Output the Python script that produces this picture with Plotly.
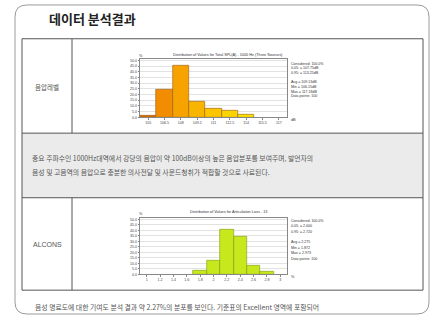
import plotly.graph_objects as go

W, H = 438, 317

# ---- data ----
spl_bins = ["105", "106.5", "108", "109.5", "111", "112.5", "114", "115.5", "117"]
spl_pct = [1.0, 24.0, 45.0, 13.5, 8.0, 6.0, 2.5, 0.0, 0.0]
spl_colors = ["#d86a00", "#f28c00", "#f6a300", "#f8b500", "#fbc600", "#fcd500", "#fde300", "#fde300", "#fde300"]
spl_stats = ["Considered: 100.0%", "0.05: = 107.75dB", "0.95: = 113.25dB", "",
             "Avg = 109.13dB", "Min = 106.15dB", "Max = 117.18dB", "Data points: 100"]

alc_bins = ["1", "1.2", "1.4", "1.6", "1.8", "2", "2.2", "2.4", "2.6", "2.8", "3"]
alc_pct = [0.0, 0.0, 0.0, 0.0, 3.0, 12.0, 41.0, 34.0, 8.0, 2.0, 0.0]
alc_stats = ["Considered: 100.0%", "0.05: = 2.000", "0.95: = 2.720", "",
             "Avg = 2.275", "Min = 1.872", "Max = 2.973", "Data points: 100"]

y_ticks = [0, 5, 10, 15, 20, 25, 30, 35, 40, 45, 50]
y_labels = ["0.0", "5.0", "10.0", "15.0", "20.0", "25.0", "30.0", "35.0", "40.0", "45.0", "50.0"]

title_text = "데이터 분석결과"
row1_label = "음압레벨"
row2_label = "ALCONS"
chart1_title = "Distribution of Values for Total SPL(A) - 1000 Hz (Three Sources)"
chart2_title = "Distribution of Values for Articulation Loss - 13"
comment1 = ["중요 주파수인 1000Hz대역에서 강당의 음압이 약 100dB이상의 높은 음압분포를 보여주며, 발언자의",
            "음성 및 고음역의 음압으로 충분한 의사전달 및 사운드청취가 적합할 것으로 사료된다."]
comment2 = "음성 명료도에 대한 기여도 분석 결과 약 2.27%의 분포를 보인다. 기준표의 Excellent 영역에 포함되어"


def fx(x):
    return x / W


def fy(y):
    return 1 - y / H


fig = go.Figure()

k1 = [i for i, v in enumerate(spl_pct) if v > 0]
fig.add_trace(go.Bar(
    x=[spl_bins[i] for i in k1], y=[spl_pct[i] for i in k1],
    marker=dict(color=[spl_colors[i] for i in k1], line=dict(color="#9a5a10", width=0.6)),
    width=1, xaxis="x", yaxis="y", showlegend=False, hoverinfo="skip"))

k2 = [i for i, v in enumerate(alc_pct) if v > 0]
fig.add_trace(go.Bar(
    x=[alc_bins[i] for i in k2], y=[alc_pct[i] for i in k2],
    marker=dict(color="#c6e81c", line=dict(color="#7c9a10", width=0.6)),
    width=1, xaxis="x2", yaxis="y2", showlegend=False, hoverinfo="skip"))

tickfont = dict(family="Liberation Sans", size=3.6, color="#444")
axis_common = dict(showline=True, linecolor="#888", linewidth=0.6, mirror=True,
                   ticks="outside", ticklen=1.5, tickcolor="#888", tickwidth=0.5,
                   tickfont=tickfont, fixedrange=True)

fig.update_layout(
    width=W, height=H, margin=dict(l=0, r=0, t=0, b=0),
    paper_bgcolor="white", plot_bgcolor="white", bargap=0,
    xaxis=dict(domain=[fx(140), fx(287)], anchor="y", type="category",
               categoryorder="array", categoryarray=spl_bins, range=[-0.5, 8.5],
               showgrid=False, **axis_common),
    yaxis=dict(domain=[fy(118), fy(59)], anchor="x", range=[0, 51.5],
               tickvals=y_ticks, ticktext=y_labels, showgrid=True, gridcolor="#e2e2e2",
               gridwidth=0.5, **axis_common),
    xaxis2=dict(domain=[fx(140), fx(287)], anchor="y2", type="category",
                categoryorder="array", categoryarray=alc_bins, range=[-0.5, 10.5],
                showgrid=False, **axis_common),
    yaxis2=dict(domain=[fy(276), fy(219)], anchor="x2", range=[0, 51.5],
                tickvals=y_ticks, ticktext=y_labels, showgrid=True, gridcolor="#e2e2e2",
                gridwidth=0.5, **axis_common),
)

shapes = []
# outer rounded border
x0, x1, y0, y1, r = fx(15), fx(429), fy(5), fy(316), 12
rx, ry = r / W, r / H
path = (f"M {x0 + rx},{y0} L {x1 - rx},{y0} Q {x1},{y0} {x1},{y0 - ry} "
        f"L {x1},{y1 + ry} Q {x1},{y1} {x1 - rx},{y1} L {x0 + rx},{y1} "
        f"Q {x0},{y1} {x0},{y1 + ry} L {x0},{y0 - ry} Q {x0},{y0} {x0 + rx},{y0} Z")
shapes.append(dict(type="path", path=path, xref="paper", yref="paper",
                   line=dict(color="#9a9a9a", width=1), fillcolor="rgba(0,0,0,0)"))
# gray comment row
shapes.append(dict(type="rect", xref="paper", yref="paper", x0=fx(22), x1=fx(423),
                   y0=fy(199), y1=fy(134), fillcolor="#ebebeb", line=dict(width=0), layer="below"))
# table lines
line_style = dict(color="#555", width=1)
for yy in [39, 134, 199, 292]:
    shapes.append(dict(type="line", xref="paper", yref="paper", x0=fx(22), x1=fx(423),
                       y0=fy(yy), y1=fy(yy), line=line_style))
for xx, ya, yb in [(22, 39, 292), (423, 39, 292), (72, 39, 134), (72, 199, 292)]:
    shapes.append(dict(type="line", xref="paper", yref="paper", x0=fx(xx), x1=fx(xx),
                       y0=fy(ya), y1=fy(yb), line=line_style))
fig.update_layout(shapes=shapes)

ann = []
kr = "Noto Sans CJK KR"


def text(x, y, s, size, xanchor="left", color="#333", family=kr):
    ann.append(dict(x=fx(x), y=fy(y), xref="paper", yref="paper", text=s, showarrow=False,
                    xanchor=xanchor, yanchor="middle", font=dict(family=family, size=size, color=color)))


text(47, 19, "<b>" + title_text + "</b>", 13, color="#222")
text(47, 88, row1_label, 6.5, xanchor="center", color="#555")
text(47, 246, row2_label, 7, xanchor="center", color="#555", family="Liberation Sans")
text(30, 159, comment1[0], 6.85, color="#555")
text(30, 173, comment1[1], 6.85, color="#555")
text(33, 309, comment2, 6.85, color="#555")

text(228, 55, chart1_title, 3.8, xanchor="center", color="#333", family="Liberation Sans")
text(228, 213, chart2_title, 3.8, xanchor="center", color="#333", family="Liberation Sans")
text(141, 56, "%", 3.8, xanchor="center", family="Liberation Sans")
text(141, 215, "%", 3.8, xanchor="center", family="Liberation Sans")
text(293, 121, "dB", 3.8, xanchor="center", family="Liberation Sans")
text(293, 279, "%", 3.8, xanchor="center", family="Liberation Sans")

for i, s in enumerate(spl_stats):
    if s:
        text(289, 64 + i * 4.7, s, 3.6, family="Liberation Sans")
for i, s in enumerate(alc_stats):
    if s:
        text(289, 222 + i * 5.5, s, 3.6, family="Liberation Sans")

fig.update_layout(annotations=ann)
fig.write_html("out.html", config={"displayModeBar": False},
               post_script="document.body.style.margin='0';document.body.style.overflow='hidden';")
